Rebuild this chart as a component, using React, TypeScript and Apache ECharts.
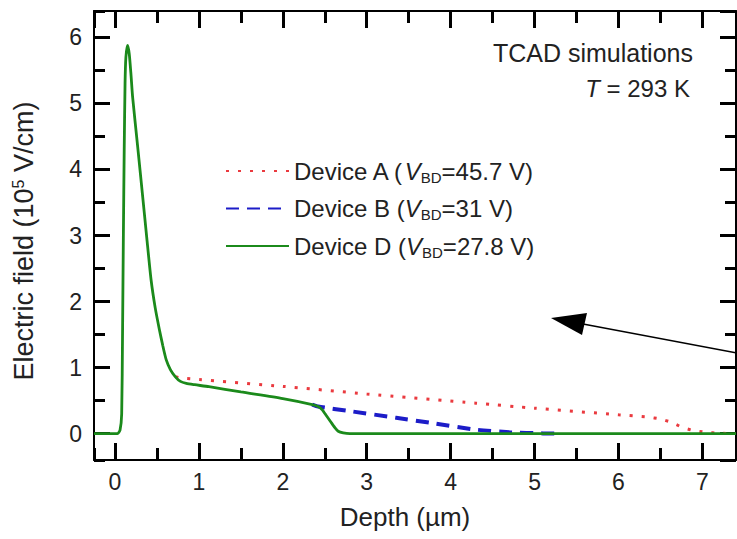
import React, { useEffect, useRef } from "react";
import * as echarts from "echarts";

// Axis ranges
const xRange = [-0.25, 7.4];
const yRange = [-0.4, 6.4];

// Device D (green): full profile
const depthD = [-0.25, 0.0, 0.03, 0.06, 0.08, 0.09, 0.1, 0.11, 0.12, 0.13, 0.15, 0.17, 0.19, 0.21, 0.27, 0.33, 0.38, 0.43, 0.48, 0.53, 0.57, 0.61, 0.66, 0.72, 0.78, 0.85, 0.95, 1.12, 1.5, 2.0, 2.35, 2.42, 2.47, 2.52, 2.57, 2.62, 2.66, 2.72, 2.8, 7.4];
const fieldD = [0, 0, 0, 0.05, 0.3, 1.5, 3.0, 4.3, 5.3, 5.7, 5.88, 5.75, 5.45, 5.1, 4.35, 3.59, 2.95, 2.33, 1.9, 1.57, 1.33, 1.12, 0.97, 0.86, 0.79, 0.76, 0.74, 0.71, 0.63, 0.53, 0.44, 0.41, 0.36, 0.27, 0.18, 0.09, 0.035, 0.01, 0, 0];

// Device B (blue): part that departs from Device D after the knee
const depthB = [2.35, 2.42, 2.8, 3.35, 3.8, 4.3, 4.7, 5.1, 5.3];
const fieldB = [0.44, 0.41, 0.34, 0.24, 0.155, 0.06, 0.02, 0.003, 0];

// Device A (red): part that departs from Device D after the peak
const depthA = [0.72, 0.8, 1.0, 2.0, 3.0, 4.3, 5.0, 6.0, 6.35, 6.5, 6.63, 6.75, 6.88, 7.04, 7.2, 7.4];
const fieldA = [0.86, 0.84, 0.82, 0.715, 0.6, 0.46, 0.385, 0.285, 0.25, 0.22, 0.17, 0.1, 0.05, 0.02, 0.005, 0];

const seriesNames = ["Device A", "Device B", "Device D"];
const breakdownVoltages = ["45.7", "31", "27.8"];
const seriesColors = ["#ea3a3f", "#1c1cc8", "#1b8a1b"];

const zip = (xs: number[], ys: number[]) => xs.map((x, i) => [x, ys[i]]);

const FONT = "'Liberation Sans', Arial, Helvetica, sans-serif";
const TXT = "#222";

export default function App() {
  const ref = useRef<HTMLDivElement>(null);
  useEffect(() => {
    if (!ref.current) return;
    const chart = echarts.init(ref.current, undefined, { renderer: "svg" });

    const lineOn = () => ({ show: true, onZero: false, lineStyle: { color: "#000", width: 2 } });
    const lineOff = () => ({ show: false, onZero: false });
    const tick = () => ({ color: "#000", width: 3 });

    const xBase = { type: "value", min: xRange[0], max: xRange[1], splitLine: { show: false } };
    const yBase = { type: "value", min: yRange[0], max: yRange[1], splitLine: { show: false } };

    const xMajor = (position: string, labels: boolean) => ({
      ...xBase,
      position,
      splitNumber: 7,
      axisLine: lineOn(),
      axisTick: { show: true, inside: true, length: 17, lineStyle: tick() },
      axisLabel: labels
        ? { show: true, showMinLabel: false, showMaxLabel: false, fontSize: 23, fontFamily: FONT, color: TXT, margin: 10 }
        : { show: false },
    });
    const xMinor = (position: string) => ({
      ...xBase,
      position,
      splitNumber: 15,
      axisLine: lineOff(),
      axisTick: { show: true, inside: true, length: 12, lineStyle: tick() },
      axisLabel: { show: false },
    });
    const yMajor = (position: string, labels: boolean) => ({
      ...yBase,
      position,
      splitNumber: 6,
      axisLine: lineOn(),
      axisTick: { show: true, inside: true, length: 16, lineStyle: tick() },
      axisLabel: labels
        ? { show: true, showMinLabel: false, showMaxLabel: false, fontSize: 23, fontFamily: FONT, color: TXT, margin: 12 }
        : { show: false },
    });
    const yMinor = (position: string) => ({
      ...yBase,
      position,
      splitNumber: 13,
      axisLine: lineOff(),
      axisTick: { show: true, inside: true, length: 11, lineStyle: tick() },
      axisLabel: { show: false },
    });

    const option: any = {
      animation: false,
      backgroundColor: "#fff",
      grid: { left: 94, right: 1, top: 11, bottom: 79, containLabel: false },
      legend: {
        data: seriesNames,
        orient: "vertical",
        left: 225,
        top: 159,
        padding: 0,
        itemWidth: 63,
        itemHeight: 14,
        itemGap: 12,
        itemStyle: { opacity: 0 },
        formatter: (name: string) => {
          const i = seriesNames.indexOf(name);
          return `${name} ({v|V}{s|BD}=${breakdownVoltages[i]} V)`;
        },
        textStyle: {
          fontFamily: FONT,
          fontSize: 24,
          color: TXT,
          rich: {
            v: { fontFamily: FONT, fontSize: 24, fontStyle: "italic", color: TXT },
            s: { fontFamily: FONT, fontSize: 15, color: TXT, padding: [12, 0, 0, 0] },
          },
        },
      },
      xAxis: [
        {
          ...xMajor("bottom", true),
          name: "Depth (µm)",
          nameLocation: "middle",
          nameGap: 44,
          nameTextStyle: { fontSize: 26, fontFamily: FONT, color: TXT, padding: [0, 20, 0, 0] },
        },
        xMinor("bottom"),
        xMajor("top", false),
        xMinor("top"),
      ],
      yAxis: [
        {
          ...yMajor("left", true),
          name: "Electric field (10{sup|5} V/cm)",
          nameLocation: "middle",
          nameGap: 56,
          nameTextStyle: {
            fontSize: 27,
            fontFamily: FONT,
            color: TXT,
            padding: [0, 11, 0, 0],
            rich: { sup: { fontSize: 16, fontFamily: FONT, color: TXT, padding: [0, 0, 12, 0] } },
          },
        },
        yMinor("left"),
        yMajor("right", false),
        yMinor("right"),
      ],
      series: [
        {
          name: seriesNames[0],
          type: "line",
          xAxisIndex: 0,
          yAxisIndex: 0,
          data: zip(depthA, fieldA),
          symbol: "none",
          smooth: 0.2,
          color: seriesColors[0],
          lineStyle: { color: seriesColors[0], width: 3, type: [3, 9], cap: "butt" },
          z: 2,
        },
        {
          name: seriesNames[1],
          type: "line",
          xAxisIndex: 0,
          yAxisIndex: 0,
          data: zip(depthB, fieldB),
          symbol: "none",
          smooth: 0.2,
          color: seriesColors[1],
          lineStyle: { color: seriesColors[1], width: 4, type: [13, 8], cap: "butt" },
          z: 3,
        },
        {
          name: seriesNames[2],
          type: "line",
          xAxisIndex: 0,
          yAxisIndex: 0,
          data: zip(depthD, fieldD),
          symbol: "none",
          smooth: 0.2,
          color: seriesColors[2],
          lineStyle: { color: seriesColors[2], width: 2.8, type: "solid" },
          z: 4,
        },
      ],
      graphic: [
        {
          type: "text",
          right: 44,
          top: 40,
          style: { text: "TCAD simulations", font: `25px ${FONT}`, fill: TXT, textAlign: "right" },
        },
        {
          type: "text",
          right: 47,
          top: 76,
          style: {
            text: "{i|T} = 293 K",
            font: `24px ${FONT}`,
            fill: TXT,
            rich: { i: { fontStyle: "italic", fontSize: 24, fontFamily: FONT, fill: TXT } },
          },
        },
        {
          type: "line",
          shape: { x1: 737, y1: 353, x2: 583, y2: 324 },
          style: { stroke: "#000", lineWidth: 1.4 },
          z: 10,
        },
        {
          type: "polygon",
          shape: { points: [[551, 318], [587, 313], [582, 335]] },
          style: { fill: "#000" },
          z: 10,
        },
      ],
    };
    chart.setOption(option);
    return () => chart.dispose();
  }, []);
  return (
    <div
      ref={ref}
      style={{ position: "fixed", left: 0, top: 0, width: 737, height: 539, background: "#fff" }}
    />
  );
}
